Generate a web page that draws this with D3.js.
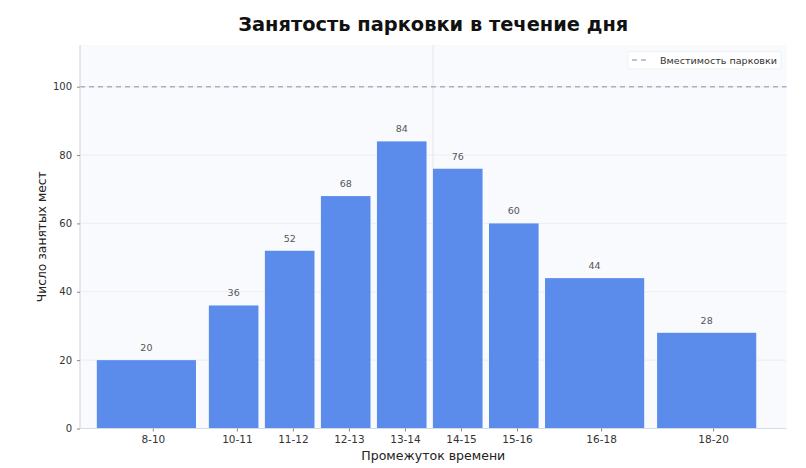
<!DOCTYPE html>
<html><head><meta charset="utf-8">
<script src="https://cdn.jsdelivr.net/npm/d3@7"></script>
<style>
html,body{margin:0;padding:0;background:#fff;}
svg{display:block;font-family:"DejaVu Sans",sans-serif;}
</style></head>
<body><svg id="chart" width="806" height="468"></svg>
<script>
const categories = ["8-10","10-11","11-12","12-13","13-14","14-15","15-16","16-18","18-20"];
const intervalStart = [8,10,11,12,13,14,15,16,18];
const intervalHours = [2,1,1,1,1,1,1,2,2];
const occupied = [20,36,52,68,84,76,60,44,28];
const capacity = 100;
const yTicks = [0,20,40,60,80,100];
const refHour = 14;

const svg = d3.select("#chart");
const m = {left:80, right:806-786.5, top:45, bottom:468-428.5};
const W = 806, H = 468;
const x = d3.scaleLinear().domain([7.7, 20.31]).range([m.left, W - m.right]);
const y = d3.scaleLinear().domain([0, 112.2]).range([H - m.bottom, m.top]);

// background
svg.append("rect").attr("x", m.left).attr("y", m.top)
  .attr("width", W - m.right - m.left).attr("height", H - m.bottom - m.top)
  .attr("fill", "#f9fafd");

// grid
svg.append("g").selectAll("line").data(yTicks.slice(1)).join("line")
  .attr("x1", m.left).attr("x2", W - m.right)
  .attr("y1", d => y(d)).attr("y2", d => y(d))
  .attr("stroke", "#e8ebf2").attr("stroke-width", 0.8);
svg.append("line").attr("x1", x(refHour)).attr("x2", x(refHour))
  .attr("y1", m.top).attr("y2", H - m.bottom)
  .attr("stroke", "#e3e6ee").attr("stroke-width", 0.9);

// bars
const data = categories.map((c, i) => ({c, s: intervalStart[i], d: intervalHours[i], v: occupied[i]}));
svg.append("g").selectAll("rect").data(data).join("rect")
  .attr("x", d => x(d.s))
  .attr("width", d => x(d.s + d.d * 0.885) - x(d.s))
  .attr("y", d => y(d.v))
  .attr("height", d => y(0) - y(d.v))
  .attr("fill", "#5b8cec");

// value labels
svg.append("g").selectAll("text").data(data).join("text")
  .attr("x", d => x(d.s + d.d * 0.885 / 2))
  .attr("y", d => y(d.v) - 9)
  .attr("text-anchor", "middle")
  .attr("font-size", 9.5).attr("fill", "#555")
  .text(d => d.v);

// capacity line
svg.append("line").attr("x1", m.left).attr("x2", W - m.right)
  .attr("y1", y(capacity)).attr("y2", y(capacity))
  .attr("stroke", "#a9b0c2").attr("stroke-width", 1.6).attr("stroke-dasharray", "5,4");

// spines
svg.append("line").attr("x1", m.left).attr("x2", m.left).attr("y1", m.top).attr("y2", H - m.bottom)
  .attr("stroke", "#d5d9e2").attr("stroke-width", 1.2);
svg.append("line").attr("x1", m.left).attr("x2", W - m.right).attr("y1", H - m.bottom).attr("y2", H - m.bottom)
  .attr("stroke", "#d5d9e2").attr("stroke-width", 1.2);

// axes
const yAxis = d3.axisLeft(y).tickValues(yTicks).tickSize(3).tickPadding(5);
const gy = svg.append("g").attr("transform", `translate(${m.left},0)`).call(yAxis);
const xAxis = d3.axisBottom(x).tickValues(data.map(d => d.s + d.d / 2))
  .tickFormat((d, i) => categories[i]).tickSize(3).tickPadding(4);
const gx = svg.append("g").attr("transform", `translate(0,${H - m.bottom})`).call(xAxis);
[gx, gy].forEach(g => {
  g.select(".domain").remove();
  g.selectAll(".tick line").attr("stroke", "#888");
  g.selectAll(".tick text").attr("fill", "#333").attr("font-family", "DejaVu Sans");
});
gx.selectAll(".tick text").attr("font-size", 10.5);
gy.selectAll(".tick text").attr("font-size", 10);

// titles
svg.append("text").attr("x", (m.left + W - m.right) / 2).attr("y", 31)
  .attr("text-anchor", "middle").attr("font-size", 19).attr("font-weight", "bold").attr("fill", "#111")
  .attr("textLength", 390).attr("lengthAdjust", "spacingAndGlyphs")
  .text("Занятость парковки в течение дня");
svg.append("text").attr("x", (m.left + W - m.right) / 2).attr("y", 460)
  .attr("text-anchor", "middle").attr("font-size", 12.4).attr("fill", "#222")
  .attr("textLength", 144).attr("lengthAdjust", "spacingAndGlyphs")
  .text("Промежуток времени");
svg.append("text").attr("transform", `translate(45.5,${(m.top + H - m.bottom) / 2}) rotate(-90)`)
  .attr("text-anchor", "middle").attr("font-size", 11.5).attr("fill", "#222")
  .attr("textLength", 131).attr("lengthAdjust", "spacingAndGlyphs")
  .text("Число занятых мест");

// legend
const lg = svg.append("g");
lg.append("rect").attr("x", 628).attr("y", 51.5).attr("width", 153).attr("height", 17.5)
  .attr("rx", 2).attr("fill", "#fff").attr("stroke", "#eceef3").attr("stroke-width", 0.8);
lg.append("line").attr("x1", 632).attr("x2", 650).attr("y1", 60).attr("y2", 60)
  .attr("stroke", "#a9b0c2").attr("stroke-width", 1.6).attr("stroke-dasharray", "5,4");
lg.append("text").attr("x", 660).attr("y", 63.5).attr("font-size", 9).attr("fill", "#333")
  .attr("textLength", 117).attr("lengthAdjust", "spacingAndGlyphs")
  .text("Вместимость парковки");
</script></body></html>
